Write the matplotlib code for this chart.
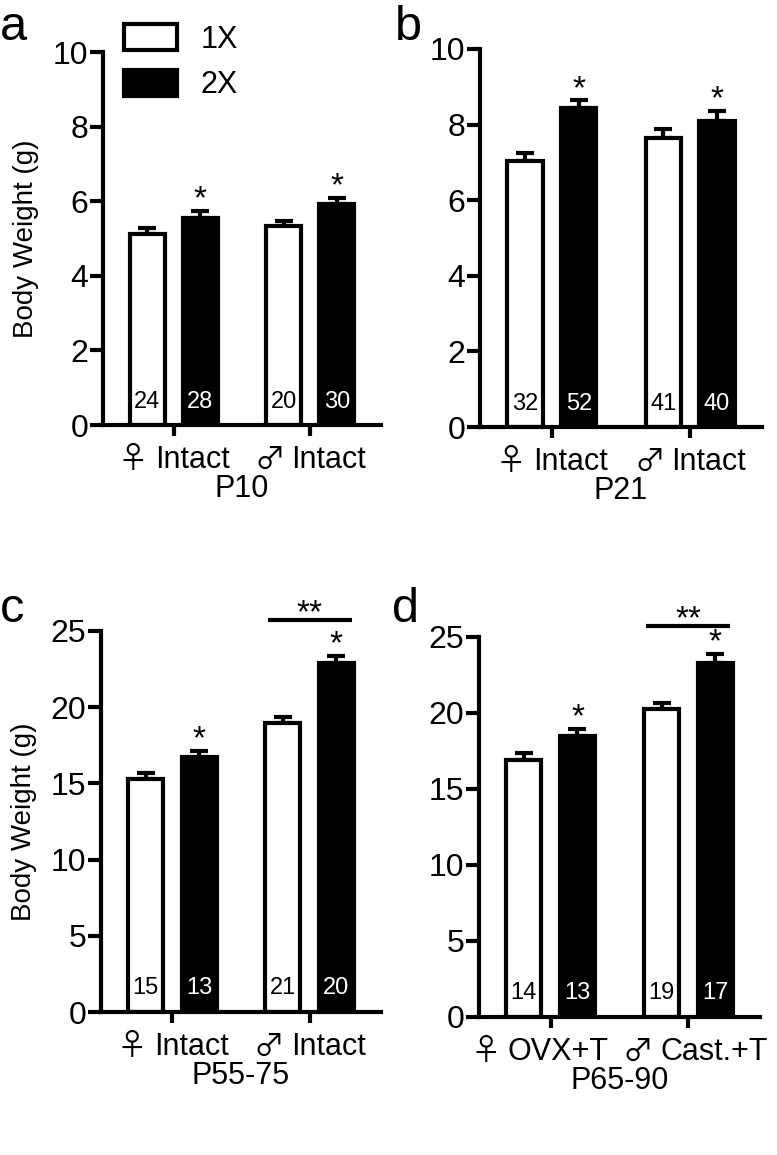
import matplotlib
matplotlib.use("Agg")
import matplotlib.pyplot as plt
from matplotlib.patches import Patch
from matplotlib.offsetbox import TextArea, HPacker, AnnotationBbox
import numpy as np

plt.rcParams['font.family'] = ['Liberation Sans', 'DejaVu Sans']

# Data
sex_symbols = ["\u2640", "\u2642"]
groups_ab = ["Intact", "Intact"]
groups_c = ["Intact", "Intact"]
groups_d = ["OVX+T", "Cast.+T"]

a_1x = [5.12, 5.35]
a_1x_err = [0.16, 0.12]
a_2x = [5.55, 5.92]
a_2x_err = [0.19, 0.18]
a_n1 = [24, 20]
a_n2 = [28, 30]

b_1x = [7.03, 7.64]
b_1x_err = [0.22, 0.23]
b_2x = [8.43, 8.10]
b_2x_err = [0.21, 0.27]
b_n1 = [32, 41]
b_n2 = [52, 40]

c_1x = [15.3, 18.96]
c_1x_err = [0.40, 0.40]
c_2x = [16.7, 22.9]
c_2x_err = [0.45, 0.45]
c_n1 = [15, 21]
c_n2 = [13, 20]

d_1x = [16.9, 20.26]
d_1x_err = [0.50, 0.40]
d_2x = [18.5, 23.3]
d_2x_err = [0.45, 0.60]
d_n1 = [14, 19]
d_n2 = [13, 17]

panels = [
    dict(letter="a", groups=groups_ab, v1=a_1x, e1=a_1x_err, v2=a_2x, e2=a_2x_err,
         n1=a_n1, n2=a_n2, ymax=10, yticks=[0, 2, 4, 6, 8, 10], xlabel="P10",
         ylabel=True, dstar=False, pos=[0.1326, 0.6320, 0.3578, 0.3229], lpos=(0.0, 0.9654),
         lshift=[0, 0]),
    dict(letter="b", groups=groups_ab, v1=b_1x, e1=b_1x_err, v2=b_2x, e2=b_2x_err,
         n1=b_n1, n2=b_n2, ymax=10, yticks=[0, 2, 4, 6, 8, 10], xlabel="P21",
         ylabel=False, dstar=False, pos=[0.6178, 0.6303, 0.3629, 0.3273], lpos=(0.508, 0.9654),
         lshift=[0, 0]),
    dict(letter="c", groups=groups_c, v1=c_1x, e1=c_1x_err, v2=c_2x, e2=c_2x_err,
         n1=c_n1, n2=c_n2, ymax=25, yticks=[0, 5, 10, 15, 20, 25], xlabel="P55-75",
         ylabel=True, dstar=True, pos=[0.1300, 0.1238, 0.3604, 0.3299], lpos=(0.0, 0.4615),
         lshift=[0, 0]),
    dict(letter="d", groups=groups_d, v1=d_1x, e1=d_1x_err, v2=d_2x, e2=d_2x_err,
         n1=d_n1, n2=d_n2, ymax=25, yticks=[0, 5, 10, 15, 20, 25], xlabel="P65-90",
         ylabel=False, dstar=True, pos=[0.6165, 0.1195, 0.3616, 0.3290], lpos=(0.505, 0.4615),
         lshift=[-8, 5]),
]

fig = plt.figure(figsize=(7.77, 11.55), dpi=100)
lw = 3.0
off = 0.195
w = 0.255
x = np.arange(2)

for p in panels:
    ax = fig.add_axes(p["pos"])
    ax.bar(x - off, p["v1"], w, color="white", edgecolor="black", linewidth=lw, zorder=2)
    ax.bar(x + off, p["v2"], w, color="black", edgecolor="black", linewidth=lw, zorder=2)
    ax.errorbar(x - off, p["v1"], yerr=[[0, 0], p["e1"]], fmt="none", ecolor="black",
                elinewidth=lw, capsize=6.5, capthick=lw, zorder=1, clip_on=False)
    ax.errorbar(x + off, p["v2"], yerr=[[0, 0], p["e2"]], fmt="none", ecolor="black",
                elinewidth=lw, capsize=6.5, capthick=lw, zorder=1, clip_on=False)

    for i in range(2):
        ax.text(x[i] - off, 0.062, str(p["n1"][i]), transform=ax.get_xaxis_transform(),
                ha="center", va="center", fontsize=17, color="black", zorder=3)
        ax.text(x[i] + off, 0.062, str(p["n2"][i]), transform=ax.get_xaxis_transform(),
                ha="center", va="center", fontsize=17, color="white", zorder=3)
        ax.annotate("*", (x[i] + off, p["v2"][i] + p["e2"][i]), xytext=(0, 8),
                    textcoords="offset points", ha="center", va="center", fontsize=24,
                    annotation_clip=False)

        # group label: large sex symbol + condition text
        sym = TextArea(sex_symbols[i], textprops=dict(fontsize=22, family="Noto Sans CJK SC"))
        txt = TextArea(p["groups"][i], textprops=dict(fontsize=22))
        box = HPacker(children=[sym, txt], align="baseline", pad=0, sep=5)
        ab = AnnotationBbox(box, (x[i], 0), xycoords=("data", "axes fraction"),
                            xybox=(p["lshift"][i], -14), boxcoords="offset points",
                            box_alignment=(0.5, 1), frameon=False, annotation_clip=False)
        ax.add_artist(ab)

    if p["dstar"]:
        ytop = p["ymax"] * 1.028
        ax.plot([1 - off - 0.11, 1 + off + 0.11], [ytop, ytop], color="black",
                linewidth=lw, clip_on=False, solid_capstyle="butt")
        ax.annotate("**", (1, ytop), xytext=(0, 5), textcoords="offset points",
                    ha="center", va="center", fontsize=24, annotation_clip=False)

    ax.annotate(p["xlabel"], (0.5, 0), xycoords="axes fraction", xytext=(0, -46),
                textcoords="offset points", ha="center", va="center", fontsize=22,
                annotation_clip=False)

    ax.set_xlim(-0.52, 1.52)
    ax.set_ylim(0, p["ymax"])
    ax.set_yticks(p["yticks"])
    ax.set_xticks(x)
    ax.set_xticklabels([])
    ax.tick_params(axis="y", labelsize=23, length=9.5, width=lw, pad=1)
    ax.tick_params(axis="x", length=8, width=lw)
    if p["ylabel"]:
        ax.set_ylabel("Body Weight (g)", fontsize=20, labelpad=10)
    for s in ["top", "right"]:
        ax.spines[s].set_visible(False)
    for s in ["left", "bottom"]:
        ax.spines[s].set_linewidth(lw)

    fig.text(p["lpos"][0], p["lpos"][1], p["letter"], fontsize=35, va="baseline", ha="left")

    if p["letter"] == "a":
        handles = [Patch(facecolor="white", edgecolor="black", linewidth=lw, label="1X"),
                   Patch(facecolor="black", edgecolor="black", linewidth=lw, label="2X")]
        ax.legend(handles=handles, loc="upper left", bbox_to_anchor=(0.075, 1.075),
                  frameon=False, fontsize=22, handlelength=1.75, handleheight=0.92,
                  handletextpad=0.75, labelspacing=0.5, borderpad=0, borderaxespad=0)

fig.savefig("out.png", dpi=100, facecolor="white")
